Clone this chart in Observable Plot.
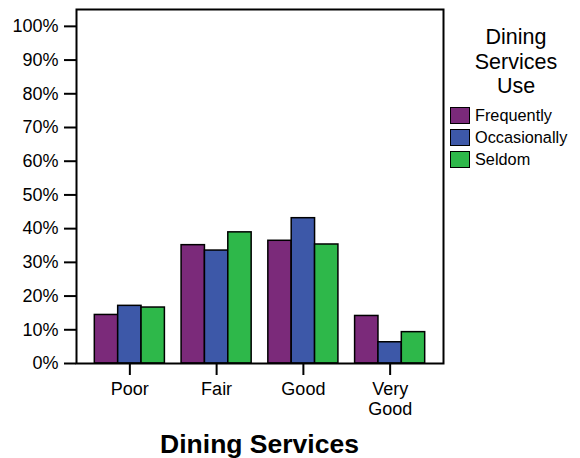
<!DOCTYPE html>
<html>
<head>
<meta charset="utf-8">
<script src="https://cdn.jsdelivr.net/npm/d3@7"></script>
<script src="https://cdn.jsdelivr.net/npm/@observablehq/plot@0.6"></script>
<style>
  body { margin: 0; background: white; }
  #wrap { position: relative; width: 580px; height: 458px; font-family: "Liberation Sans", Arial, sans-serif; color: black; }
  #title { position: absolute; left: 76px; width: 367px; top: 431px; text-align: center; font-weight: bold; font-size: 26.5px; line-height: 26px; }
  #legtitle { position: absolute; left: 441px; width: 150px; top: 25px; text-align: center; font-size: 21.5px; line-height: 24.5px; }
  #legitems { position: absolute; left: 450px; top: 105px; font-size: 16.3px; }
  .row { display: flex; align-items: center; height: 21.8px; }
  .sw { width: 18px; height: 15px; border: 1.5px solid black; margin-right: 5px; }
</style>
</head>
<body>
<div id="wrap">
  <div id="chart"></div>
  <div id="title">Dining Services</div>
  <div id="legtitle">Dining<br>Services<br>Use</div>
  <div id="legitems"></div>
</div>
<script>
const categories = ["Poor", "Fair", "Good", "Very Good"];
const series = ["Frequently", "Occasionally", "Seldom"];
const colors = ["#7b2a7a", "#3d58a8", "#2eb84a"];
const frequently = [0.144, 0.351, 0.364, 0.141];
const occasionally = [0.171, 0.335, 0.431, 0.063];
const seldom = [0.166, 0.389, 0.353, 0.093];
const yTicks = [0, 0.1, 0.2, 0.3, 0.4, 0.5, 0.6, 0.7, 0.8, 0.9, 1.0];

// grouped-bar layout in category units (band step = 1)
const groupWidth = 0.8077;
const outerPad = 0.615;
const barW = groupWidth / series.length;

const values = [frequently, occasionally, seldom];
const data = categories.flatMap((c, i) => series.map((s, j) => ({
  category: c, series: s, value: values[j][i],
  x1: i - groupWidth / 2 + j * barW,
  x2: i - groupWidth / 2 + (j + 1) * barW
})));

const plot = Plot.plot({
  width: 580,
  height: 420,
  marginLeft: 76,
  marginRight: 137,
  marginTop: 9,
  marginBottom: 57,
  style: {fontFamily: '"Liberation Sans", Arial, sans-serif', fontSize: "18px", color: "black", background: "white"},
  x: {domain: [-outerPad, categories.length - 1 + outerPad]},
  y: {domain: [0, 1.05]},
  color: {domain: series, range: colors},
  marks: [
    Plot.rectY(data, {x1: "x1", x2: "x2", y: "value", fill: "series", stroke: "black", strokeWidth: 1.5}),
    Plot.axisY({ticks: yTicks, tickFormat: d3.format(".0%"), tickSize: 12, tickPadding: 6, strokeWidth: 2, fontSize: 18, label: null}),
    Plot.axisX({ticks: d3.range(categories.length), tickSize: 12, tickPadding: 6, strokeWidth: 2, fontSize: 18, lineHeight: 1.08, label: null,
      tickFormat: i => categories[i] === "Very Good" ? "Very\nGood" : categories[i]}),
    Plot.frame({strokeWidth: 2})
  ]
});
document.getElementById("chart").appendChild(plot);

const leg = document.getElementById("legitems");
series.forEach((s, i) => {
  const row = document.createElement("div");
  row.className = "row";
  const sw = document.createElement("div");
  sw.className = "sw";
  sw.style.background = colors[i];
  const t = document.createElement("span");
  t.textContent = s;
  row.appendChild(sw);
  row.appendChild(t);
  leg.appendChild(row);
});
</script>
</body>
</html>
